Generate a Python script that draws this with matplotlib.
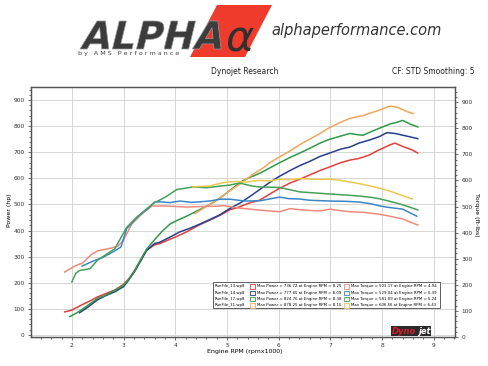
import matplotlib
matplotlib.use("Agg")
from matplotlib import pyplot as plt
from matplotlib.patches import Polygon, Rectangle, PathPatch
from matplotlib.textpath import TextPath
from matplotlib.font_manager import FontProperties
from matplotlib.transforms import Affine2D
from matplotlib.ticker import MultipleLocator

# power curves (hp), rpm x1000
rpm_p13 = [1.86, 2.0, 2.19, 2.35, 2.5, 2.65, 2.83, 2.99, 3.1, 3.22, 3.35, 3.45, 3.6, 3.7, 4.0, 4.22, 4.45, 4.67,
           4.9, 5.06, 5.19, 5.44, 5.64, 5.83, 6.0, 6.22, 6.4, 6.6, 6.8, 6.99, 7.2, 7.38, 7.55, 7.76, 7.9, 8.02,
           8.15, 8.25, 8.4, 8.58, 8.69]
pow_p13 = [88, 95, 115, 130, 146, 158, 172, 192, 215, 249, 295, 325, 345, 350, 375, 395, 420, 440,
           462, 480, 487, 506, 517, 540, 560, 582, 596, 613, 630, 644, 660, 670, 676, 690, 705, 716,
           728, 735, 722, 709, 697]

rpm_p14 = [2.15, 2.3, 2.5, 2.65, 2.83, 3.0, 3.1, 3.22, 3.35, 3.45, 3.6, 3.7, 3.9, 4.09, 4.3, 4.48, 4.7, 4.86,
           5.06, 5.25, 5.44, 5.64, 5.83, 6.0, 6.22, 6.4, 6.6, 6.8, 6.99, 7.2, 7.38, 7.55, 7.76, 7.95, 8.09,
           8.25, 8.34, 8.54, 8.69]
pow_p14 = [85, 105, 135, 150, 165, 185, 210, 245, 290, 325, 350, 355, 375, 395, 410, 425, 445, 460,
           485, 505, 530, 558, 585, 606, 630, 648, 665, 684, 697, 712, 720, 735, 747, 760, 775,
           772, 768, 759, 752]

rpm_p17 = [1.96, 2.1, 2.25, 2.5, 2.65, 2.83, 3.0, 3.1, 3.22, 3.35, 3.45, 3.6, 3.75, 3.9, 4.05, 4.22, 4.45,
           4.67, 4.85, 5.0, 5.15, 5.3, 5.47, 5.64, 5.83, 6.0, 6.22, 6.4, 6.6, 6.8, 6.99, 7.2, 7.38, 7.5,
           7.63, 7.8, 7.96, 8.15, 8.29, 8.4, 8.54, 8.69]
pow_p17 = [70, 85, 105, 140, 152, 170, 190, 212, 248, 295, 330, 365, 398, 425, 440, 455, 478,
           500, 522, 545, 568, 590, 606, 620, 640, 658, 680, 696, 715, 735, 750, 762, 772, 768,
           765, 780, 793, 808, 815, 822, 808, 797]

rpm_p31 = [4.38, 4.5, 4.67, 4.85, 5.0, 5.25, 5.5, 5.7, 5.83, 6.0, 6.22, 6.4, 6.6, 6.8, 6.99, 7.2, 7.38,
           7.5, 7.63, 7.8, 7.96, 8.15, 8.3, 8.48, 8.6]
pow_p31 = [465, 480, 500, 522, 545, 578, 615, 640, 660, 680, 705, 728, 750, 772, 795, 815, 830,
           835, 840, 852, 862, 877, 872, 856, 848]

# torque curves (ft-lbs)
rpm_t13 = [1.86, 2.06, 2.21, 2.39, 2.5, 2.77, 2.89, 2.99, 3.16, 3.35, 3.55, 3.8, 4.0, 4.25, 4.5, 4.75,
           4.94, 5.2, 5.44, 5.65, 5.83, 6.02, 6.22, 6.4, 6.6, 6.8, 6.99, 7.2, 7.38, 7.63, 7.96, 8.15,
           8.4, 8.55, 8.69]
trq_t13 = [249, 272, 284, 318, 330, 341, 349, 368, 433, 471, 502, 502, 500, 498, 500, 501,
           503, 495, 490, 486, 483, 480, 492, 488, 485, 483, 490, 484, 480, 478, 470, 463,
           452, 440, 429]

rpm_t14 = [2.2, 2.4, 2.6, 2.83, 2.95, 3.06, 3.26, 3.47, 3.6, 3.7, 3.9, 4.09, 4.3, 4.48, 4.7, 4.86, 5.06,
           5.35, 5.64, 5.85, 6.02, 6.2, 6.39, 6.6, 6.99, 7.3, 7.57, 7.8, 7.96, 8.15, 8.4, 8.55, 8.67]
trq_t14 = [272, 290, 305, 330, 345, 415, 458, 492, 517, 518, 515, 521, 516, 518, 522, 528, 528,
           521, 522, 530, 536, 530, 529, 524, 521, 520, 517, 510, 502, 496, 490, 475, 463]

rpm_t17 = [2.0, 2.08, 2.15, 2.25, 2.35, 2.5, 2.83, 3.06, 3.26, 3.47, 3.6, 3.8, 4.03, 4.34, 4.6, 4.86,
           5.05, 5.24, 5.5, 5.64, 6.02, 6.2, 6.41, 6.7, 6.99, 7.3, 7.57, 7.8, 7.96, 8.15, 8.34, 8.5, 8.69]
trq_t17 = [211, 245, 255, 258, 262, 295, 338, 420, 460, 495, 515, 535, 565, 575, 572, 578,
           582, 590, 578, 575, 573, 565, 556, 552, 548, 544, 540, 535, 529, 520, 510, 500, 487]

rpm_t31 = [4.34, 4.5, 4.67, 4.85, 5.0, 5.2, 5.38, 5.6, 5.83, 6.02, 6.2, 6.43, 6.6, 6.8, 6.99, 7.2,
           7.38, 7.55, 7.76, 7.96, 8.15, 8.35, 8.58]
trq_t31 = [575, 577, 579, 588, 594, 596, 594, 600, 598, 605, 603, 607, 605, 604, 605, 600,
           594, 588, 579, 570, 559, 545, 529]

x_ticks = [2, 3, 4, 5, 6, 7, 8, 9]
y_ticks = [0, 100, 200, 300, 400, 500, 600, 700, 800, 900]

legend_files = ["RunFile_13.wp8", "RunFile_14.wp8", "RunFile_17.wp8", "RunFile_31.wp8"]
legend_power = ["Max Power = 736.72 at Engine RPM = 8.25", "Max Power = 777.65 at Engine RPM = 8.09",
                "Max Power = 824.76 at Engine RPM = 8.38", "Max Power = 878.25 at Engine RPM = 8.15"]
legend_torque = ["Max Torque = 503.17 at Engine RPM = 4.94", "Max Torque = 529.04 at Engine RPM = 6.39",
                 "Max Torque = 581.09 at Engine RPM = 5.24", "Max Torque = 606.56 at Engine RPM = 6.43"]

power_colors = ["#e2403c", "#24408c", "#2f9a48", "#f2a55a"]
torque_colors = ["#ec8a7c", "#3a86c8", "#45a05a", "#e8c84e"]

fig = plt.figure(figsize=(4.88, 3.66), dpi=100)

# header drawn on a pixel-coordinate overlay
hdr = fig.add_axes([0, 0, 1, 1])
hdr.set_xlim(0, 488)
hdr.set_ylim(366, 0)
hdr.axis("off")
hdr.add_patch(Polygon([[217, 5], [272, 5], [245, 57], [190, 57]], closed=True,
                      facecolor="#ee3b2c", edgecolor="none"))
tp = TextPath((0, 0), "ALPHA", size=10, prop=FontProperties(family="DejaVu Sans", weight="bold"))
bb = tp.get_extents()
tr = (Affine2D().translate(-bb.x0, -bb.y0).skew_deg(14, 0)
      .scale(148 / (bb.width + bb.height * 0.25), -28 / bb.height).translate(80, 49))
hdr.add_patch(PathPatch(tr.transform_path(tp), facecolor="#3c3c3c", edgecolor="#9a9a9a", lw=0.5))
hdr.text(226, 40, "\u03b1", fontsize=31, style="italic", color="#303030", va="center", ha="left")
hdr.text(78, 54, "b y   A M S   P e r f o r m a n c e", fontsize=4.6, color="#444444",
         va="center", ha="left")
hdr.text(271, 31, "alphaperformance.com", fontsize=10.5, style="italic",
         color="#333333", va="center", ha="left")
hdr.text(245, 72, "Dynojet Research", fontsize=5.5, color="#222222", ha="center", va="center")
hdr.text(475, 72, "CF: STD Smoothing: 5", fontsize=5.5, color="#222222", ha="right", va="center")

ax = fig.add_axes([31 / 488, 1 - 337 / 366, 424 / 488, 250 / 366])
ax2 = ax.twinx()

for x, y, c in zip([rpm_p13, rpm_p14, rpm_p17, rpm_p31], [pow_p13, pow_p14, pow_p17, pow_p31], power_colors):
    ax.plot(x, y, color=c, lw=1.1)
for x, y, c in zip([rpm_t13, rpm_t14, rpm_t17, rpm_t31], [trq_t13, trq_t14, trq_t17, trq_t31], torque_colors):
    ax2.plot(x, y, color=c, lw=1.1)

ax.set_xlim(1.21, 9.41)
ax.set_ylim(-8, 950)
ax2.set_ylim(0, 958)
ax.set_xticks(x_ticks)
ax.set_yticks(y_ticks)
ax2.set_yticks(y_ticks)
ax.xaxis.set_minor_locator(MultipleLocator(0.2))
ax.yaxis.set_minor_locator(MultipleLocator(20))
ax2.yaxis.set_minor_locator(MultipleLocator(20))
ax.grid(True, color="#d6d6d6", lw=0.7)
ax.set_axisbelow(True)

for a in (ax, ax2):
    a.tick_params(labelsize=4.2, colors="#333333", length=2.5, width=0.5, pad=2)
    a.tick_params(which="minor", length=1.5, width=0.4)
    for s in a.spines.values():
        s.set_color("#555555")
        s.set_linewidth(0.9)

fig.text(9 / 488, 1 - 210 / 366, "Power (hp)", rotation=90, fontsize=4.5, ha="center", va="center")
fig.text(476 / 488, 1 - 215 / 366, "Torque (ft-lbs)", rotation=270, fontsize=4.5, ha="center", va="center")
fig.text(245 / 488, 1 - 352 / 366, "Engine RPM (rpmx1000)", fontsize=4.5, ha="center", va="center")

# legend box
fig.patches.append(Rectangle((213 / 488, 1 - 308 / 366), 227 / 488, 26 / 366, transform=fig.transFigure,
                             facecolor="white", edgecolor="#444444", lw=0.6, zorder=5))
for i in range(4):
    yy = 1 - (286.5 + i * 6.3) / 366
    fig.text(215 / 488, yy, legend_files[i], fontsize=2.8, va="center", ha="left", zorder=6)
    fig.patches.append(Rectangle((249.5 / 488, yy - 2.3 / 366), 5 / 488, 4.6 / 366, transform=fig.transFigure,
                                 facecolor="#f4f4f4", edgecolor=power_colors[i], lw=0.6, zorder=6))
    fig.text(257 / 488, yy, legend_power[i], fontsize=2.8, va="center", ha="left", zorder=6)
    fig.patches.append(Rectangle((344 / 488, yy - 2.3 / 366), 5 / 488, 4.6 / 366, transform=fig.transFigure,
                                 facecolor="#f4f4f4", edgecolor=torque_colors[i], lw=0.6, zorder=6))
    fig.text(351 / 488, yy, legend_torque[i], fontsize=2.8, va="center", ha="left", zorder=6)

# dynojet mark
fig.text(392 / 488, 1 - 331 / 366, "Dyno", fontsize=6, fontweight="bold", style="italic", color="#d8202a",
         ha="left", va="center", bbox=dict(facecolor="#2a2a2a", edgecolor="none", pad=0.6))
fig.text(418 / 488, 1 - 331 / 366, "jet", fontsize=6, fontweight="bold", style="italic", color="white",
         ha="left", va="center", bbox=dict(facecolor="#2a2a2a", edgecolor="none", pad=0.6))

fig.savefig("out.png", dpi=100)
